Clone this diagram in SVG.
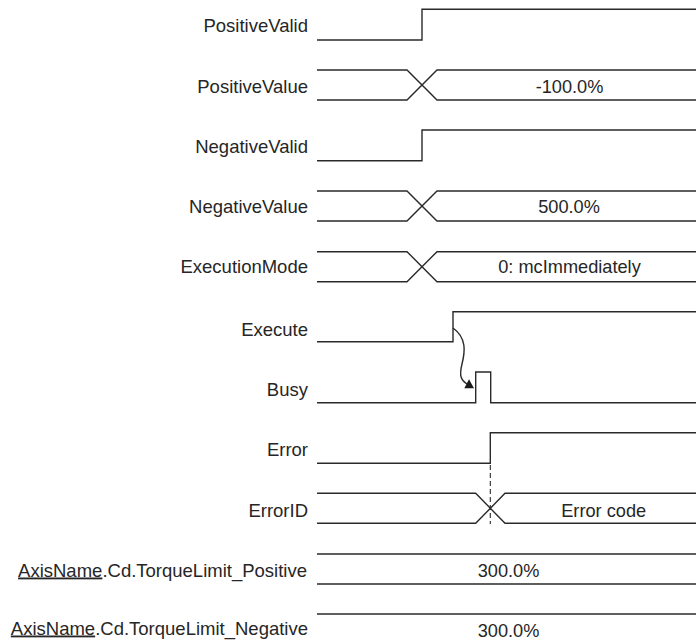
<svg xmlns="http://www.w3.org/2000/svg" width="696" height="643" viewBox="0 0 696 643">
<style>
  .lbl { font-family: "Liberation Sans", Arial, sans-serif; font-size: 18.5px; fill: #262626; text-anchor: end; }
  .val { font-family: "Liberation Sans", Arial, sans-serif; font-size: 18.2px; fill: #262626; text-anchor: middle; }
  .sig { fill: none; stroke: #2a2a2a; stroke-width: 1.4; stroke-linejoin: miter; }
  .dash { fill: none; stroke: #2a2a2a; stroke-width: 1.1; stroke-dasharray: 5 3; }
  .u { text-decoration: underline; }
</style>
<rect x="0" y="0" width="696" height="643" fill="#ffffff"/>

<g id="PositiveValid">
  <text class="lbl" x="308" y="32">PositiveValid</text>
  <path class="sig" d="M317,40 H422 V9.3 H696"/>
</g>
<g id="PositiveValue">
  <text class="lbl" x="308" y="92.5">PositiveValue</text>
  <path class="sig" d="M317,70 H407 L437,100 H696 M317,100 H407 L437,70 H696"/>
  <text class="val" x="569.5" y="92.5">-100.0%</text>
</g>
<g id="NegativeValid">
  <text class="lbl" x="308" y="152.5">NegativeValid</text>
  <path class="sig" d="M317,160.7 H422 V130 H696"/>
</g>
<g id="NegativeValue">
  <text class="lbl" x="308" y="213.3">NegativeValue</text>
  <path class="sig" d="M317,191 H407 L437,221 H696 M317,221 H407 L437,191 H696"/>
  <text class="val" x="569" y="213.3">500.0%</text>
</g>
<g id="ExecutionMode">
  <text class="lbl" x="308" y="273.3">ExecutionMode</text>
  <path class="sig" d="M317,251.7 H407 L437,281.7 H696 M317,281.7 H407 L437,251.7 H696"/>
  <text class="val" x="569.5" y="273.3">0: mcImmediately</text>
</g>
<g id="Execute">
  <text class="lbl" x="308" y="335.7">Execute</text>
  <path class="sig" d="M317,341.7 H453 V311.7 H696"/>
</g>
<g id="Busy">
  <text class="lbl" x="308" y="395.7">Busy</text>
  <path class="sig" d="M317,402.7 H475.7 V372 H490.7 V402.7 H696"/>
</g>
<g id="Error">
  <text class="lbl" x="308" y="456">Error</text>
  <path class="sig" d="M317,463.3 H490.3 V432.7 H696"/>
</g>
<g id="ErrorID">
  <text class="lbl" x="308" y="516.7">ErrorID</text>
  <path class="sig" d="M317,493.3 H475.7 L505,523.3 H696 M317,523.3 H475.7 L505,493.3 H696"/>
  <text class="val" x="603.7" y="516.7">Error code</text>
</g>
<g id="TorqueLimit_Positive">
  <text class="lbl" x="307" y="576.5"><tspan class="u">AxisName</tspan>.Cd.TorqueLimit_Positive</text>
  <path class="sig" d="M317,554 H696 M317,584 H696"/>
  <text class="val" x="508.5" y="577.3">300.0%</text>
</g>
<g id="TorqueLimit_Negative">
  <text class="lbl" x="308" y="634.5"><tspan class="u">AxisName</tspan>.Cd.TorqueLimit_Negative</text>
  <path class="sig" d="M317,614 H696"/>
  <text class="val" x="508.5" y="637.3">300.0%</text>
</g>

<g id="connectors">
  <path class="sig" stroke-width="1" d="M453,328 C467,338 465,352 462,364 C459,376 461,380 467,384"/>
  <polygon points="474,388.3 464.3,388.3 469,379.3" fill="#1a1a1a"/>
  <line class="dash" x1="490.3" y1="465" x2="490.3" y2="524"/>
</g>
</svg>
